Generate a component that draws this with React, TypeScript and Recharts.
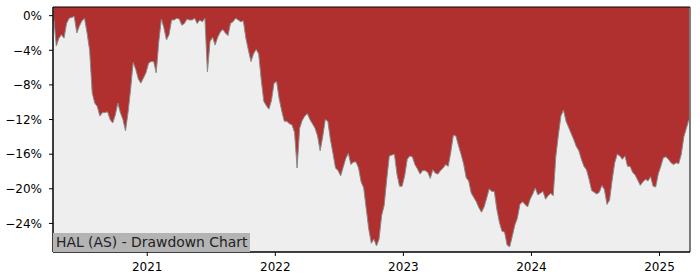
import React from 'react';
import { AreaChart, Area, XAxis, YAxis, CartesianGrid, ReferenceArea } from 'recharts';

// decimal year of each sample
const years = [
  2020.27, 2020.29, 2020.31, 2020.33, 2020.35, 2020.37, 2020.39, 2020.41, 2020.43, 2020.45,
  2020.47, 2020.49, 2020.51, 2020.53, 2020.55, 2020.57, 2020.59, 2020.61, 2020.63, 2020.65,
  2020.67, 2020.69, 2020.71, 2020.73, 2020.75, 2020.77, 2020.79, 2020.81, 2020.83, 2020.85,
  2020.87, 2020.89, 2020.91, 2020.93, 2020.95, 2020.97, 2020.99,
  2021.01, 2021.03, 2021.05, 2021.07, 2021.09, 2021.11, 2021.13, 2021.15, 2021.17, 2021.19,
  2021.21, 2021.23, 2021.25, 2021.27, 2021.29, 2021.31, 2021.33, 2021.35, 2021.37, 2021.39,
  2021.41, 2021.43, 2021.45, 2021.47, 2021.49, 2021.51, 2021.53, 2021.55, 2021.57, 2021.59,
  2021.61, 2021.63, 2021.65, 2021.67, 2021.69, 2021.71, 2021.73, 2021.75, 2021.77, 2021.79,
  2021.81, 2021.83, 2021.85, 2021.87, 2021.89, 2021.91, 2021.93, 2021.95, 2021.97, 2021.99,
  2022.01, 2022.03, 2022.05, 2022.07, 2022.09, 2022.11, 2022.13, 2022.15, 2022.17, 2022.19,
  2022.21, 2022.23, 2022.25, 2022.27, 2022.29, 2022.31, 2022.33, 2022.35, 2022.37, 2022.39,
  2022.41, 2022.43, 2022.45, 2022.47, 2022.49, 2022.51, 2022.53, 2022.55, 2022.57, 2022.59,
  2022.61, 2022.63, 2022.65, 2022.67, 2022.69, 2022.71, 2022.73, 2022.75, 2022.77, 2022.79,
  2022.81, 2022.83, 2022.85, 2022.87, 2022.89, 2022.91, 2022.93, 2022.95, 2022.97, 2022.99,
  2023.01, 2023.03, 2023.05, 2023.07, 2023.09, 2023.11, 2023.13, 2023.15, 2023.17, 2023.19,
  2023.21, 2023.23, 2023.25, 2023.27, 2023.29, 2023.31, 2023.33, 2023.35, 2023.37, 2023.39,
  2023.41, 2023.43, 2023.45, 2023.47, 2023.49, 2023.51, 2023.53, 2023.55, 2023.57, 2023.59,
  2023.61, 2023.63, 2023.65, 2023.67, 2023.69, 2023.71, 2023.73, 2023.75, 2023.77, 2023.79,
  2023.81, 2023.83, 2023.85, 2023.87, 2023.89, 2023.91, 2023.93, 2023.95, 2023.97, 2023.99,
  2024.01, 2024.03, 2024.05, 2024.07, 2024.09, 2024.11, 2024.13, 2024.15, 2024.17, 2024.19,
  2024.21, 2024.23, 2024.25, 2024.27, 2024.29, 2024.31, 2024.33, 2024.35, 2024.37, 2024.39,
  2024.41, 2024.43, 2024.45, 2024.47, 2024.49, 2024.51, 2024.53, 2024.55, 2024.57, 2024.59,
  2024.61, 2024.63, 2024.65, 2024.67, 2024.69, 2024.71, 2024.73, 2024.75, 2024.77, 2024.79,
  2024.81, 2024.83, 2024.85, 2024.87, 2024.89, 2024.91, 2024.93, 2024.95, 2024.97, 2024.99,
  2025.01, 2025.03, 2025.05, 2025.07, 2025.09, 2025.11, 2025.13, 2025.15, 2025.17, 2025.19,
  2025.21, 2025.23,
];

// drawdown in percent
const drawdown = [
  -0.3, -3.5, -2.6, -2.2, -2.6, -0.9, -0.3, -0.2, -0.1, -2.0,
  -1.2, -0.6, -0.3, -2.0, -4.0, -8.9, -10.1, -10.5, -11.6, -11.2,
  -11.2, -11.1, -12.0, -12.4, -11.5, -10.1, -11.2, -12.0, -13.3, -11.2,
  -8.5, -5.4, -6.2, -7.3, -7.8, -7.2, -6.6,
  -5.5, -5.3, -5.3, -6.6, -3.0, -0.4, -1.4, -2.8, -2.2, -0.5,
  -0.5, -0.3, -0.4, -1.1, -0.9, -0.4, -0.5, -0.5, -0.3, -0.9,
  -0.5, -0.7, -0.3, -6.5, -3.0, -2.5, -3.4, -2.5, -1.9, -1.6,
  -2.0, -2.3, -0.9, -0.7, -0.3, -0.5, -0.7, -0.6, -2.6, -4.0,
  -5.3, -4.4, -3.9, -4.4, -7.4, -9.9, -10.4, -10.8, -9.8, -7.8,
  -7.6, -9.6, -11.0, -12.2, -12.2, -12.5, -12.6, -13.5, -17.6, -13.0,
  -12.1, -11.6, -11.3, -12.0, -12.5, -13.0, -13.9, -15.6, -14.0, -12.0,
  -12.2, -14.3, -15.9, -17.6, -17.9, -18.5, -17.5, -16.5, -15.9, -17.2,
  -16.9, -16.9, -17.6, -19.2, -19.9, -22.3, -24.7, -26.3, -25.8, -26.6,
  -25.8, -23.1, -21.9, -18.9, -16.2, -16.1, -16.0, -18.3, -19.7, -19.7,
  -18.5, -16.6, -16.2, -16.3, -17.2, -17.7, -18.3, -17.9, -17.9, -18.1,
  -18.8, -17.8, -18.2, -18.3, -17.9, -17.6, -17.2, -17.4, -15.8, -13.8,
  -13.9, -15.0, -16.0, -17.1, -18.7, -19.1, -20.5, -21.0, -21.5, -22.2,
  -22.7, -22.1, -21.1, -20.0, -20.3, -20.3, -22.4, -23.9, -24.9, -25.0,
  -26.5, -26.7, -25.5, -24.2, -23.4, -21.8, -21.5, -21.8, -22.1, -21.2,
  -20.6, -19.9, -20.7, -20.5, -20.3, -21.2, -20.8, -20.5, -20.8, -16.3,
  -13.8, -11.6, -10.9, -12.2, -12.9, -13.6, -14.3, -15.1, -15.6, -16.6,
  -17.4, -17.8, -18.9, -20.2, -20.4, -20.6, -20.4, -19.6, -20.1, -21.8,
  -21.3, -19.0, -17.0, -16.0, -16.2, -16.6, -16.2, -17.4, -17.4, -18.1,
  -18.4, -19.0, -19.6, -19.2, -18.9, -19.1, -18.6, -19.7, -19.8, -18.3,
  -17.4, -16.4, -16.3, -16.6, -17.0, -17.2, -17.0, -17.1, -16.0, -14.0,
  -13.0, -12.0,
];

const xTicks = [2021, 2022, 2023, 2024, 2025];
const yTicks = [0, -4, -8, -12, -16, -20, -24];

const X_DOMAIN = [2020.264, 2025.238];
const Y_DOMAIN = [-27.3, 1.0];

const data = years.map((t, i) => ({ t, dd: drawdown[i] }));

const fmtPct = (v: number) => (v < 0 ? `\u2212${Math.abs(v)}%` : `${v}%`);

const tickStyle = { fontSize: 12, fill: '#000', fontFamily: 'DejaVu Sans' };

export default function App() {
  return (
    <div style={{ position: 'absolute', left: 0, top: 0, width: 700, height: 280, background: '#fff' }}>
      <AreaChart width={700} height={280} data={data} margin={{ top: 7, right: 10, left: 0, bottom: 0 }}>
        <CartesianGrid horizontal={false} vertical={false} fill="#eeeeee" stroke="none" />
        <XAxis
          dataKey="t"
          type="number"
          domain={X_DOMAIN}
          ticks={xTicks}
          allowDataOverflow
          height={28}
          tick={tickStyle}
          tickSize={4}
          tickMargin={6}
          axisLine={{ stroke: '#000' }}
          tickLine={{ stroke: '#000' }}
        />
        <YAxis
          type="number"
          domain={Y_DOMAIN}
          ticks={yTicks}
          allowDataOverflow
          width={53}
          tick={tickStyle}
          tickFormatter={fmtPct}
          tickSize={4}
          tickMargin={7}
          axisLine={{ stroke: '#000' }}
          tickLine={{ stroke: '#000' }}
        />
        <Area
          type="linear"
          dataKey="dd"
          baseValue={Y_DOMAIN[1]}
          fill="#b03030"
          fillOpacity={1}
          stroke="#8a8a8a"
          strokeWidth={1}
          isAnimationActive={false}
        />
        <ReferenceArea
          x1={X_DOMAIN[0]}
          x2={X_DOMAIN[1]}
          y1={Y_DOMAIN[0]}
          y2={Y_DOMAIN[1]}
          fill="none"
          stroke="#000"
          strokeWidth={1}
        />
      </AreaChart>
      <div
        style={{
          position: 'absolute',
          left: 53,
          top: 233,
          height: 19,
          lineHeight: '19px',
          padding: '0 3px',
          background: '#b4b4b4',
          color: '#222',
          fontFamily: 'DejaVu Sans',
          fontSize: 13.9,
          whiteSpace: 'nowrap',
        }}
      >
        HAL (AS) - Drawdown Chart
      </div>
    </div>
  );
}
